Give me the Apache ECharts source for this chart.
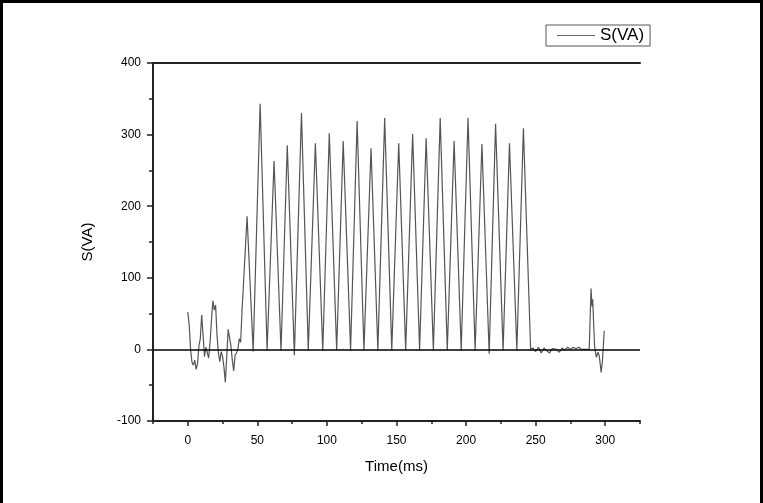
<!DOCTYPE html>
<html>
<head>
<meta charset="utf-8">
<script src="https://cdn.jsdelivr.net/npm/echarts@6/dist/echarts.min.js"></script>
<style>
  html, body { margin: 0; padding: 0; background: #fff; }
  #chart { width: 763px; height: 503px; }
  #frame {
    position: absolute; left: 0; top: 0; width: 757px; height: 503px;
    border-top: 3px solid #000; border-left: 3px solid #000; border-right: 3px solid #000;
    pointer-events: none;
  }
</style>
</head>
<body>
<div id="chart"></div>
<div id="frame"></div>
<script>
const elChart = document.getElementById('chart');

// Data (time in ms, S in VA)
const noiseT = [0, 1, 2, 3, 4, 5, 6, 7, 8, 9, 10, 11, 12, 13, 14, 15, 16, 17, 18, 19, 20,
    21, 22, 23, 24, 25, 26, 27, 28, 29, 30, 31, 32, 33, 34, 35, 36, 37, 38, 39, 40, 42.6];
const noiseV = [52, 35, 0, -18, -22, -15, -28, -20, 5, 15, 48, 20, -10, 3, 5, -12, 10, 40, 68, 55, 62,
    20, -5, -17, -3, -10, -25, -46, -10, 28, 26, 5, -15, -30, -8, -5, 0, 15, 10, 55, 90, 186];

const peakT = [52, 62, 71.5, 81.7, 91.7, 101.7, 111.7, 121.7, 131.7, 141.5,
    151.6, 161.6, 171.3, 181.4, 191.4, 201.4, 211.4, 221.2, 231.2, 241.2];
const peakV = [343, 263, 285, 330, 288, 302, 291, 319, 281, 323,
    288, 301, 295, 323, 291, 323, 287, 315, 288, 309];

const troughT = [47, 57, 67, 76.6, 86.6, 97, 107, 117, 126.6, 136.6,
    146.6, 156.6, 166.6, 176.5, 186.5, 196.5, 206.5, 216.6, 226.6, 236.5];
const troughV = [-3, -1, -2, -8, -1, -2, -1, -1, -1, -1,
    -1, -1, -1, -1, -1, -1, -1, -6, -1, -1];

const tailT = [246.4, 248, 250, 252, 254, 256, 258, 260, 262, 265, 267, 269, 271, 273, 275,
    277, 279, 281, 283, 288.5, 289.8, 290.5, 291, 291.6, 292.4, 293.6, 294.8, 295.7, 297.1, 298, 299.3];
const tailV = [0, 2, -3, 3, -5, 2, -2, -5, 1, 0, -4, 2, -1, 3, 0,
    3, 1, 3, 0, 0, 85, 60, 70, 40, 3, -11, -4, -9, -32, -16, 26];

const xTicks = [0, 50, 100, 150, 200, 250, 300];
const yTicks = [-100, 0, 100, 200, 300, 400];

// Merge all pieces into one time-ordered series
const points = [];
[[noiseT, noiseV], [peakT, peakV], [troughT, troughV], [tailT, tailV]].forEach(function (pair) {
    pair[0].forEach(function (t, i) { points.push([t, pair[1][i]]); });
});
points.sort(function (a, b) { return a[0] - b[0]; });

const chart = echarts.init(elChart, null, { renderer: 'canvas' });
const font = 'Liberation Sans, Arial, sans-serif';
const axisColor = '#222';

const option = {
    animation: false,
    textStyle: { fontFamily: font },
    grid: { left: 153, right: 123, top: 63, bottom: 82 },
    legend: {
        data: [{ name: 'S(VA)', icon: 'rect' }],
        left: 546, top: 25,
        itemWidth: 38, itemHeight: 1,
        itemGap: 4,
        itemStyle: { color: '#666' },
        padding: [2, 6, 2, 11],
        borderColor: '#555', borderWidth: 1,
        textStyle: { fontSize: 17, color: '#000', fontFamily: font, padding: [0, 0, 0, 0] }
    },
    xAxis: [
        {
            type: 'value',
            min: -25, max: 325,
            name: 'Time(ms)',
            nameLocation: 'middle',
            nameGap: 38,
            nameTextStyle: { fontSize: 15, color: '#000', fontFamily: font },
            axisLine: { onZero: false, lineStyle: { color: axisColor, width: 2 } },
            axisTick: { customValues: xTicks, length: 5, lineStyle: { color: axisColor, width: 1.5 } },
            axisLabel: { customValues: xTicks, fontSize: 12, color: '#000', margin: 14, fontFamily: font },
            splitLine: { show: false }
        },
        {
            type: 'value',
            position: 'bottom',
            min: -25, max: 325, interval: 25,
            axisLine: { show: false, onZero: false },
            axisTick: { length: 3, lineStyle: { color: axisColor, width: 1.5 } },
            axisLabel: { show: false },
            splitLine: { show: false }
        },
        {
            type: 'value',
            position: 'top',
            min: -25, max: 325,
            axisLine: { show: true, onZero: false, lineStyle: { color: axisColor, width: 2 } },
            axisTick: { show: false },
            axisLabel: { show: false },
            splitLine: { show: false }
        }
    ],
    yAxis: {
        type: 'value',
        min: -100, max: 400, interval: 100,
        name: 'S(VA)',
        nameLocation: 'middle',
        nameGap: 58,
        nameTextStyle: { fontSize: 15, color: '#000', fontFamily: font },
        axisLine: { show: true, onZero: false, lineStyle: { color: axisColor, width: 2 } },
        axisTick: { show: true, customValues: yTicks, length: 6, lineStyle: { color: axisColor, width: 1.5 } },
        minorTick: { show: true, splitNumber: 2, length: 4, lineStyle: { color: axisColor, width: 1.5 } },
        axisLabel: { customValues: yTicks, fontSize: 12, color: '#000', margin: 12, fontFamily: font },
        splitLine: { show: false }
    },
    series: [
        {
            name: 'S(VA)',
            type: 'line',
            xAxisIndex: 0,
            symbol: 'none',
            data: points,
            lineStyle: { color: '#555', width: 1.2 },
            itemStyle: { color: '#555' },
            markLine: {
                silent: true,
                symbol: 'none',
                label: { show: false },
                lineStyle: { color: '#000', width: 1.5, type: 'solid' },
                data: [{ yAxis: 0 }]
            }
        }
    ]
};

chart.setOption(option);
</script>
</body>
</html>
